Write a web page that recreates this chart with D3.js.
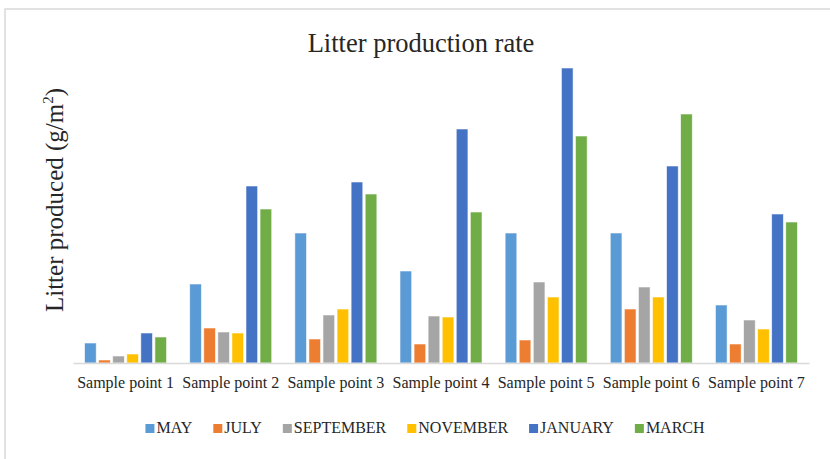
<!DOCTYPE html>
<html>
<head>
<meta charset="utf-8">
<script src="https://cdn.jsdelivr.net/npm/d3@7"></script>
<style>
  html, body { margin: 0; padding: 0; background: #ffffff; }
  svg { display: block; }
  text { font-family: "Liberation Serif", "Times New Roman", serif; fill: #262626; }
</style>
</head>
<body>
<svg id="chart" width="830" height="459"></svg>
<script>
// Sampling sites along the x axis
const categories = ["Sample point 1", "Sample point 2", "Sample point 3", "Sample point 4",
                    "Sample point 5", "Sample point 6", "Sample point 7"];

// Sampling months (one bar each per site)
const months = ["MAY", "JULY", "SEPTEMBER", "NOVEMBER", "JANUARY", "MARCH"];

// Litter produced (g/m²) per month, one value per sample point
const may       = [20,  79, 130,  92, 130, 130,  58];
const july      = [ 3,  35,  24,  19,  23,  54,  19];
const september = [ 7,  31,  48,  47,  81,  76,  43];
const november  = [ 9,  30,  54,  46,  66,  66,  34];
const january   = [30, 177, 181, 234, 295, 197, 149];
const march     = [26, 154, 169, 151, 227, 249, 141];

const seriesValues = [may, july, september, november, january, march];
const colors = ["#5B9BD5", "#ED7D31", "#A5A5A5", "#FFC000", "#4472C4", "#70AD47"];

const svg = d3.select("#chart");

// Outer chart frame
svg.append("rect")
  .attr("x", 5).attr("y", 9)
  .attr("width", 900).attr("height", 600)
  .attr("fill", "none")
  .attr("stroke", "#d9d9d9")
  .attr("stroke-width", 1.5);

const plot = { left: 73, right: 809, top: 63, bottom: 363 };

const x0 = d3.scaleBand()
  .domain(categories)
  .range([plot.left, plot.right])
  .paddingInner(0).paddingOuter(0);

const bw = x0.bandwidth();
const x1 = d3.scaleBand()
  .domain(months)
  .range([bw * 0.11, bw * 0.89])
  .paddingInner(0.17).paddingOuter(0);

const y = d3.scaleLinear()
  .domain([0, 300])
  .range([plot.bottom, plot.top]);

// Clustered bars
const rows = [];
categories.forEach((c, ci) => {
  months.forEach((m, mi) => {
    rows.push({ cat: c, month: m, value: seriesValues[mi][ci], color: colors[mi] });
  });
});

svg.append("g")
  .selectAll("rect")
  .data(rows)
  .join("rect")
  .attr("x", d => x0(d.cat) + x1(d.month))
  .attr("y", d => y(d.value))
  .attr("width", x1.bandwidth())
  .attr("height", d => y(0) - y(d.value))
  .attr("fill", d => d.color)
  .attr("stroke", "#ffffff")
  .attr("stroke-opacity", 0.7)
  .attr("stroke-width", 0.8);

// Category axis (line only, no ticks)
const xAxis = svg.append("g")
  .attr("transform", `translate(0,${plot.bottom})`)
  .call(d3.axisBottom(x0).tickSize(0).tickPadding(14));
xAxis.select(".domain")
  .attr("stroke", "#d9d9d9")
  .attr("stroke-width", 1.5);
xAxis.selectAll(".tick text")
  .attr("font-family", "Liberation Serif, Times New Roman, serif")
  .attr("font-size", 16)
  .attr("fill", "#262626");

// Title
svg.append("text")
  .attr("x", 421).attr("y", 52)
  .attr("text-anchor", "middle")
  .attr("font-size", 26.5)
  .text("Litter production rate");

// Y axis title
const yTitle = svg.append("text")
  .attr("transform", "translate(63,200) rotate(-90)")
  .attr("text-anchor", "middle")
  .attr("font-size", 25);
yTitle.append("tspan").text("Litter produced (g/m");
yTitle.append("tspan").attr("font-size", 15).attr("dy", -10).text("2");
yTitle.append("tspan").attr("dy", 10).text(")");

// Legend
const legend = svg.append("g");
let lx = 0;
months.forEach((m, i) => {
  const item = legend.append("g").attr("transform", `translate(${lx},0)`);
  item.append("rect")
    .attr("x", 0).attr("y", -9)
    .attr("width", 9).attr("height", 9)
    .attr("fill", colors[i]);
  const t = item.append("text")
    .attr("x", 11).attr("y", 0)
    .attr("font-size", 16)
    .text(m);
  lx += 11 + t.node().getComputedTextLength() + 21;
});
const legendWidth = lx - 21;
legend.attr("transform", `translate(${425 - legendWidth / 2},433)`);
</script>
</body>
</html>
